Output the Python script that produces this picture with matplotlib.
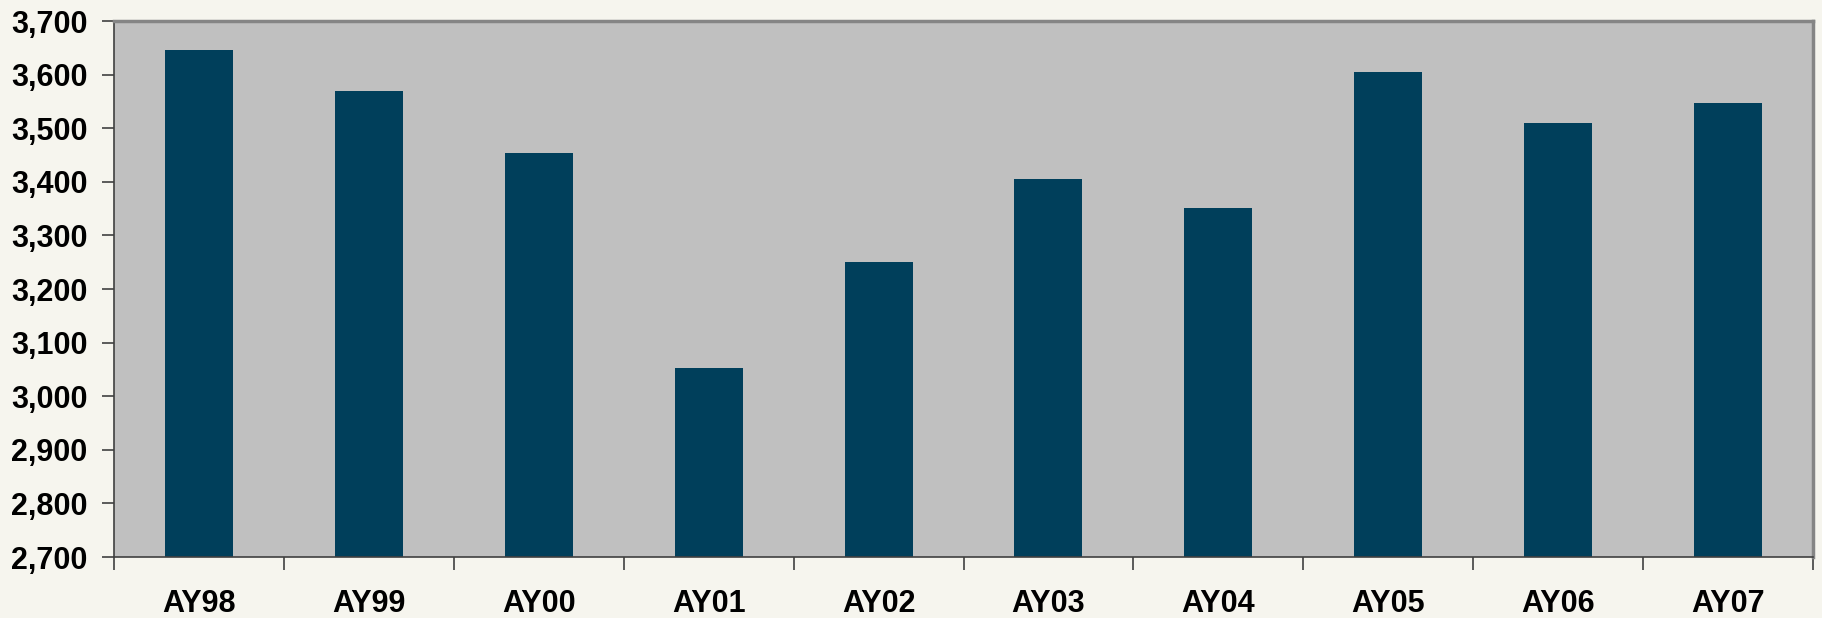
import matplotlib

matplotlib.use("Agg")
import matplotlib.pyplot as plt
import numpy as np
from matplotlib.ticker import FuncFormatter, FixedLocator

categories = ["AY98", "AY99", "AY00", "AY01", "AY02", "AY03", "AY04", "AY05", "AY06", "AY07"]
values = [3646, 3570, 3453, 3053, 3250, 3406, 3352, 3605, 3510, 3547]
y_ticks = list(range(2700, 3701, 100))

BG = "#F6F5EE"
PLOT_BG = "#C0C0C0"
BAR = "#003F5B"

plt.rcParams["font.family"] = ["Liberation Sans", "DejaVu Sans"]

fig = plt.figure(figsize=(18.22, 6.18), dpi=100, facecolor=BG)
ax = fig.add_axes([114 / 1822, 1 - 557 / 618, (1813 - 114) / 1822, (557 - 21) / 618])
ax.set_facecolor(PLOT_BG)

x = np.arange(len(categories))
ax.bar(x, values, width=0.4, color=BAR, zorder=2)

ax.set_xlim(-0.5, len(categories) - 0.5)
ax.set_ylim(2700, 3700)
ax.set_yticks(y_ticks)
ax.yaxis.set_major_formatter(FuncFormatter(lambda v, _: f"{int(v):,}"))

# labels centered under bars, tick marks between categories
ax.set_xticks(x)
ax.set_xticklabels(categories)
ax.xaxis.set_minor_locator(FixedLocator(np.arange(-0.5, len(categories), 1.0)))
ax.tick_params(axis="x", which="major", length=0, pad=23)
ax.tick_params(axis="x", which="minor", length=9, width=1.2, color="#404040", direction="out")
ax.tick_params(axis="y", length=9, width=1.2, color="#404040", direction="out", pad=10)

for lbl in ax.get_xticklabels() + ax.get_yticklabels():
    lbl.set_fontsize(22)
    lbl.set_fontweight("bold")
    lbl.set_color("black")

ax.spines["left"].set_color("#404040")
ax.spines["bottom"].set_color("#404040")
ax.spines["left"].set_linewidth(1.2)
ax.spines["bottom"].set_linewidth(1.2)
ax.spines["top"].set_color("#858585")
ax.spines["right"].set_color("#858585")
ax.spines["top"].set_linewidth(2.5)
ax.spines["right"].set_linewidth(2.5)

fig.savefig("out.png", dpi=100, facecolor=BG)
